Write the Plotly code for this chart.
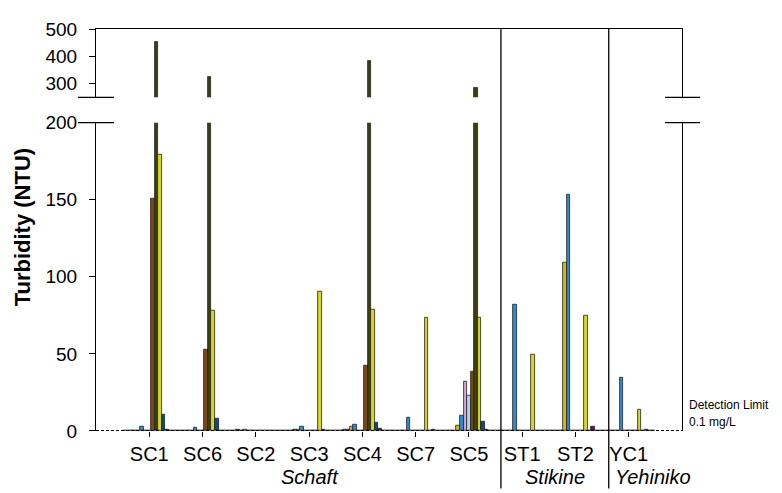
import plotly.graph_objects as go

sites = ["SC1", "SC6", "SC2", "SC3", "SC4", "SC7", "SC5", "ST1", "ST2", "YC1"]

s01 = [0, 0, 0.3, 0.3, 0.5, 0, 0.3, 0, 0, 0]
s02 = [0, 0, 0, 0.3, 0, 0, 0, 0, 0, 0]
s03 = [0, 0, 0.8, 0, 0.8, 0, 0.5, 0, 0, 0]
s04 = [0, 0, 0.5, 0.6, 0.8, 0, 0.5, 0, 0, 0]
s05 = [0, 0, 0.8, 0.8, 2.5, 0, 3.4, 0, 109, 0]
s06 = [2.5, 2, 0, 2.5, 3.8, 8.4, 10.1, 81.8, 153, 34.4]
s07 = [0, 0, 0, 0, 0, 0, 32, 0, 0, 0]
s08 = [0, 0, 0, 0, 0, 0, 23.2, 0, 0, 0]
s09 = [150.6, 52.5, 0, 0, 42.4, 0, 38.2, 0, 0, 0]
s10 = [452, 324, 0, 0, 382, 0, 285, 0, 0, 0]
s11 = [179, 77.8, 0, 90.5, 79, 73.4, 73.2, 49.6, 74.9, 13.7]
s12 = [10.8, 8.2, 0, 1, 5.3, 0, 6.3, 0, 0, 0]
s13 = [1, 0.5, 0, 0, 1.5, 1, 1, 0, 2.7, 1]
s14 = [0, 0, 0, 0, 0, 0, 0, 0, 0, 0]
s15 = [0, 0, 0, 0, 0, 0, 0, 0, 0, 0]

series = [s01, s02, s03, s04, s05, s06, s07, s08, s09, s10, s11, s12, s13, s14, s15]
colors = ["#444444", "#666666", "#555533", "#333333", "#E2B20F", "#2E8BD0",
          "#D9A6D9", "#A9D6F2", "#7B4A12", "#3B400C", "#D8D820", "#0C4D7E",
          "#5C1458", "#888888", "#999999"]
lowers = [0, 200]
uppers = [250, 500]

FONT = "Arial, Liberation Sans, sans-serif"

fig = go.Figure()
for i, (vals, c) in enumerate(zip(series, colors)):
    for xa, ya in (("x", "y"), ("x2", "y2")):
        fig.add_trace(go.Bar(
            x=sites, y=vals, xaxis=xa, yaxis=ya, name=f"Series {i+1}",
            marker=dict(color=c, line=dict(color="#222222", width=0.8)),
            showlegend=False,
        ))

fig.update_layout(
    width=774, height=485,
    margin=dict(l=88, r=100, t=11, b=62),
    paper_bgcolor="white", plot_bgcolor="white",
    barmode="group", bargap=0, bargroupgap=0,
    font=dict(family=FONT, color="black"),
    xaxis=dict(domain=[0, 1], anchor="y", type="category", categoryorder="array",
               categoryarray=sites, range=[-1, 10], showline=False, showgrid=False,
               ticks="outside", ticklen=5, tickcolor="black",
               tickfont=dict(size=20, family=FONT)),
    xaxis2=dict(domain=[0, 1], anchor="y2", matches="x", side="top", showline=True,
                linecolor="black", linewidth=1.2, showticklabels=False, ticks="",
                showgrid=False),
    yaxis=dict(domain=[0, 0.767], anchor="x", range=lowers, tickvals=[0, 50, 100, 150, 200],
               showline=True, mirror=True, linecolor="black", linewidth=1.2,
               ticks="outside", ticklen=6, tickcolor="black", showgrid=False, zeroline=False,
               tickfont=dict(size=19, family=FONT), ticklabelstandoff=8),
    yaxis2=dict(domain=[0.83, 1], anchor="x2", range=uppers, tickvals=[300, 400, 500],
                showline=True, mirror=True, linecolor="black", linewidth=1.2,
                ticks="outside", ticklen=6, tickcolor="black", showgrid=False, zeroline=False,
                tickfont=dict(size=19, family=FONT), ticklabelstandoff=8),
)

shapes = []
# detection limit dashed line at 0.1
shapes.append(dict(type="line", xref="paper", yref="y", x0=0, x1=1, y0=0.1, y1=0.1,
                   line=dict(color="black", width=1.5, dash="3px,2px")))
# axis break marks
for xa, xb in ((-0.0307, 0.0307), (0.971, 1.031)):
    for yy in (0.767, 0.83):
        shapes.append(dict(type="line", xref="paper", yref="paper", x0=xa, x1=xb,
                           y0=yy, y1=yy, line=dict(color="black", width=1.2)))
# river separators
for xs in (0.691, 0.875):
    shapes.append(dict(type="line", xref="paper", yref="paper", x0=xs, x1=xs,
                       y0=1, y1=-0.143, line=dict(color="black", width=1.3)))
fig.update_layout(shapes=shapes)

ann = [
    dict(text="<b>Turbidity (NTU)</b>", x=-0.126, y=0.507, textangle=-90,
         font=dict(size=22)),
    dict(text="<i>Schaft</i>", x=0.365, y=-0.114, font=dict(size=20)),
    dict(text="<i>Stikine</i>", x=0.783, y=-0.114, font=dict(size=20)),
    dict(text="<i>Yehiniko</i>", x=0.95, y=-0.114, font=dict(size=20)),
    dict(text="Detection Limit", x=1.009, y=0.0655, xanchor="left", font=dict(size=12)),
    dict(text="0.1 mg/L", x=1.009, y=0.022, xanchor="left", font=dict(size=12)),
]
for a in ann:
    a.update(xref="paper", yref="paper", showarrow=False)
    a.setdefault("xanchor", "center")
    a["yanchor"] = "middle"
fig.update_layout(annotations=ann)

fig.write_html("out.html")
